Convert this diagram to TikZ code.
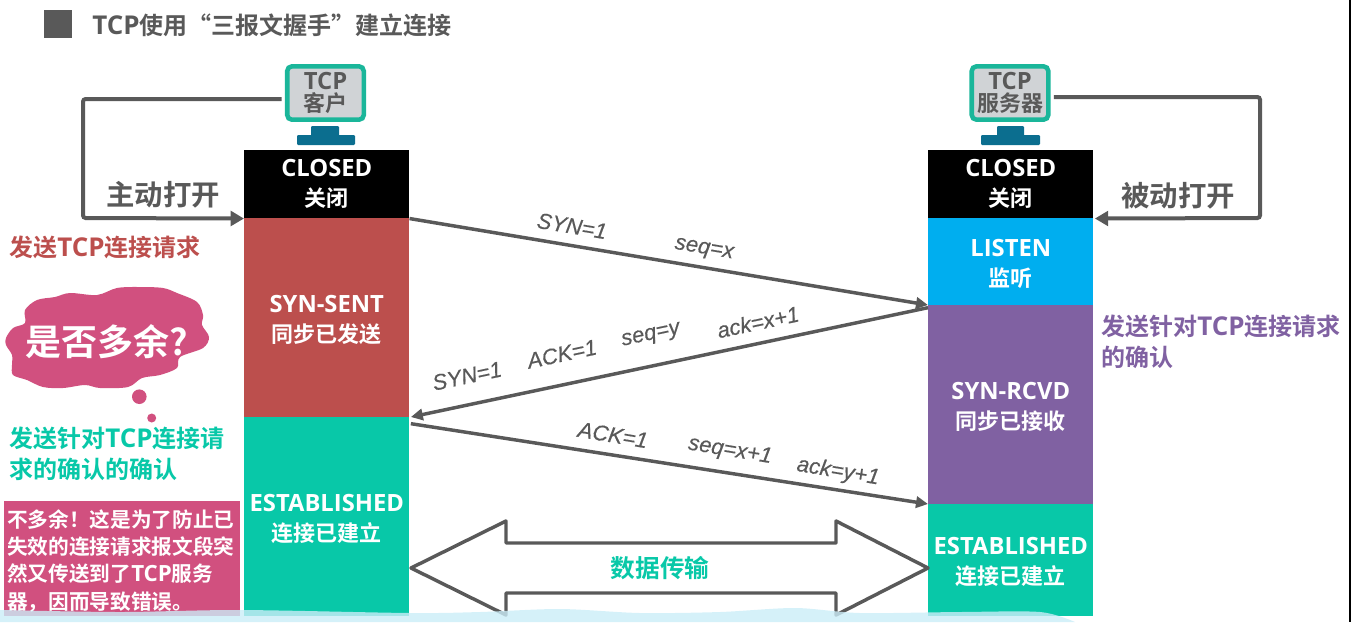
\documentclass[tikz,border=0pt]{standalone}
\usepackage{fontspec}
\setmainfont{Noto Sans CJK SC}[BoldFont={Noto Sans CJK SC Bold}]
\newfontfamily\lat{Open Sans}[Scale=1.08]
\newfontfamily\msgf{Liberation Sans}[ItalicFeatures={FakeBold=0.4}]
\usetikzlibrary{arrows.meta}
\definecolor{dgray}{HTML}{595959}
\definecolor{synred}{HTML}{BC4F4D}
\definecolor{estgreen}{HTML}{08C8A8}
\definecolor{lisblue}{HTML}{00AEEF}
\definecolor{rcvpurple}{HTML}{8061A2}
\definecolor{pinkc}{HTML}{D1507F}
\definecolor{monteal}{HTML}{1AB69A}
\definecolor{monscreen}{HTML}{D0D3D6}
\definecolor{monbase}{HTML}{0B6E8F}
\definecolor{waterc}{HTML}{CBEDF8}
\newcommand{\dnstrut}{\rule{0pt}{15.7pt}}
\newcommand{\dnsmall}{\rule{0pt}{13pt}}
\tikzset{
 statebox/.style={draw=none,anchor=north west,minimum width=123.75pt,inner sep=0pt,align=center,text=white,font=\fontsize{16.5}{22.5}\selectfont\bfseries},
 monitor/.style={draw=monteal,fill=monscreen,line width=3.4pt,rounded corners=3.5pt,minimum width=57.4pt,minimum height=40pt,inner sep=0pt,align=center,text=dgray,font=\fontsize{16.5}{17}\selectfont\bfseries},
 openline/.style={draw=dgray,line width=3pt,rounded corners=2pt,-{Triangle[length=10pt,width=11pt]}},
 msgline/.style={draw=dgray,line width=2.6pt,-{Triangle[length=9pt,width=8.5pt]}},
 msglabel/.style={text=dgray,font=\msgf\itshape\fontsize{16.5}{18}\selectfont,inner sep=0pt},
 opentext/.style={inner sep=0pt,text=dgray,font=\fontsize{21.3}{21}\selectfont\bfseries},
}
\begin{document}
\begin{tikzpicture}[x=0.75pt,y=-0.75pt]
\useasboundingbox (0,0) rectangle (1351,622);
% title
\fill[dgray] (44,10) rectangle (72,38);
\node[anchor=west,inner sep=0pt,text=dgray,font=\fontsize{18}{18}\selectfont\bfseries] (title) at (92,25) {{\lat TCP}使用“三报文握手”建立连接};
% left column
\node[statebox,fill=black,minimum height=51pt] (closedL) at (244,150) {\dnsmall{\lat CLOSED}\\关闭};
\node[statebox,fill=synred,minimum height=149.25pt] (synsent) at (244,218) {\dnstrut{\lat SYN-SENT}\\同步已发送};
\node[statebox,fill=estgreen,minimum height=149.25pt] (estL) at (244,417) {\dnstrut{\lat ESTABLISHED}\\连接已建立};
% right column
\node[statebox,fill=black,minimum height=51pt] (closedR) at (928,150) {\dnsmall{\lat CLOSED}\\关闭};
\node[statebox,fill=lisblue,minimum height=65.25pt] (listen) at (928,218) {\dnstrut{\lat LISTEN}\\监听};
\node[statebox,fill=rcvpurple,minimum height=149.25pt] (synrcvd) at (928,305) {\dnstrut{\lat SYN-RCVD}\\同步已接收};
\node[statebox,fill=estgreen,minimum height=84pt] (estR) at (928,504) {\dnstrut{\lat ESTABLISHED}\\连接已建立};
% monitors
\node[monitor] (client) at (325.5,93) {{\lat TCP}\\客户};
\fill[monbase,rounded corners=0.8pt] (311,126) rectangle (339,137);
\fill[monbase,rounded corners=0.8pt] (297,135) rectangle (355,145);
\node[monitor] (server) at (1010,93) {{\lat TCP}\\服务器};
\fill[monbase,rounded corners=0.8pt] (997,126) rectangle (1024,137);
\fill[monbase,rounded corners=0.8pt] (981,135) rectangle (1040,145);
% open lines
\coordinate (cornerL) at (83,218);
\coordinate (cornerR) at (1260,218);
\draw[openline] ([xshift=-2.5pt,yshift=-4.5pt]client.west) -| (cornerL) -- (closedL.south west);
\node[opentext] (zhu) at (163,195) {主动打开};
\draw[openline] ([xshift=2.5pt,yshift=-3pt]server.east) -| (cornerR) -- ([xshift=1pt]closedR.south east);
\node[opentext] (bei) at (1178,196) {被动打开};
% messages
\draw[msgline] (closedL.south east) -- (synrcvd.north west);
\draw[msgline] ([yshift=-2pt]synrcvd.north west) -- ([xshift=1pt]estL.north east);
\draw[msgline] ([xshift=1pt,yshift=-5pt]estL.north east) -- (estR.north west);
\node[msglabel,rotate=-9.5] (l1) at (572,226) {SYN=1};
\node[msglabel,rotate=-9.5] (l2) at (704,250) {seq=x};
\node[msglabel,rotate=12] (l3) at (467,376) {SYN=1};
\node[msglabel,rotate=12] (l4) at (562,354) {ACK=1};
\node[msglabel,rotate=12] (l5) at (651,336) {seq=y};
\node[msglabel,rotate=12] (l6) at (758,322) {ack=x+1};
\node[msglabel,rotate=-9.5] (l7) at (613,435) {ACK=1};
\node[msglabel,rotate=-9.5] (l8) at (730,451) {seq=x+1};
\node[msglabel,rotate=-9.5] (l9) at (838,472) {ack=y+1};
% data arrow
\draw[dgray,line width=2.6pt,line join=round] (411,568) -- (506,521) -- (506,543) -- (836,543) -- (836,521) -- (928,568) -- (836,615) -- (836,593) -- (506,593) -- (506,615) -- cycle;
\node[inner sep=0pt,text=estgreen,font=\fontsize{18.5}{19}\selectfont\bfseries] (data) at (660,568) {数据传输};
% side notes
\node[anchor=west,inner sep=0pt,text=synred,font=\fontsize{18}{18}\selectfont\bfseries] (n1) at (9,247) {发送{\lat TCP}连接请求};
\node[anchor=west,inner sep=0pt,text=rcvpurple,font=\fontsize{18}{23.5}\selectfont\bfseries,align=left] (n2) at (1101,342) {发送针对{\lat TCP}连接请求\\的确认};
\node[anchor=west,inner sep=0pt,text=estgreen,align=left,font=\fontsize{18}{23}\selectfont\bfseries] (n3) at (9,454) {发送针对{\lat TCP}连接请\\求的确认的确认};
% cloud
\fill[pinkc] plot[smooth cycle,tension=0.55] coordinates {(6,338) (13,328) (25,323) (25,310) (37,300) (55,297) (70,293) (97,295) (117,288) (140,287) (163,288) (177,293) (197,302) (203,315) (202,325) (209,337) (203,348) (180,357) (177,368) (160,375) (142,378) (128,387) (100,388) (85,385) (63,388) (43,387) (27,380) (13,375) (12,365) (12,355) (6,345)};
\fill[pinkc] (139.3,396.7) circle (7.3);
\fill[pinkc] (151.7,418) circle (4.5);
\node[inner sep=0pt,text=white,font=\fontsize{27}{27}\selectfont\bfseries] (q) at (107,342) {是否多余?};
% pink box
\node[anchor=north west,fill=pinkc,minimum width=177pt,minimum height=86.25pt,inner sep=0pt] (nobox) at (4,501) {};
\node[anchor=north west,inner sep=0pt,text=white,align=left,font=\fontsize{15.5}{20.5}\selectfont\bfseries] (notext) at (7,509) {不多余！这是为了防止已\\失效的连接请求报文段突\\然又传送到了{\lat TCP}服务\\器，因而导致错误。};
% bottom strip
\fill[waterc,opacity=0.8] (0,622) -- plot[smooth,tension=0.5] coordinates {(0,610) (120,612) (240,610) (410,613) (480,612) (560,609) (640,613) (720,612) (795,608) (860,613) (960,612) (1040,612) (1075,622)} -- cycle;
% right edge
\fill[black] (1349,0) rectangle (1351,622);
\end{tikzpicture}
\end{document}
